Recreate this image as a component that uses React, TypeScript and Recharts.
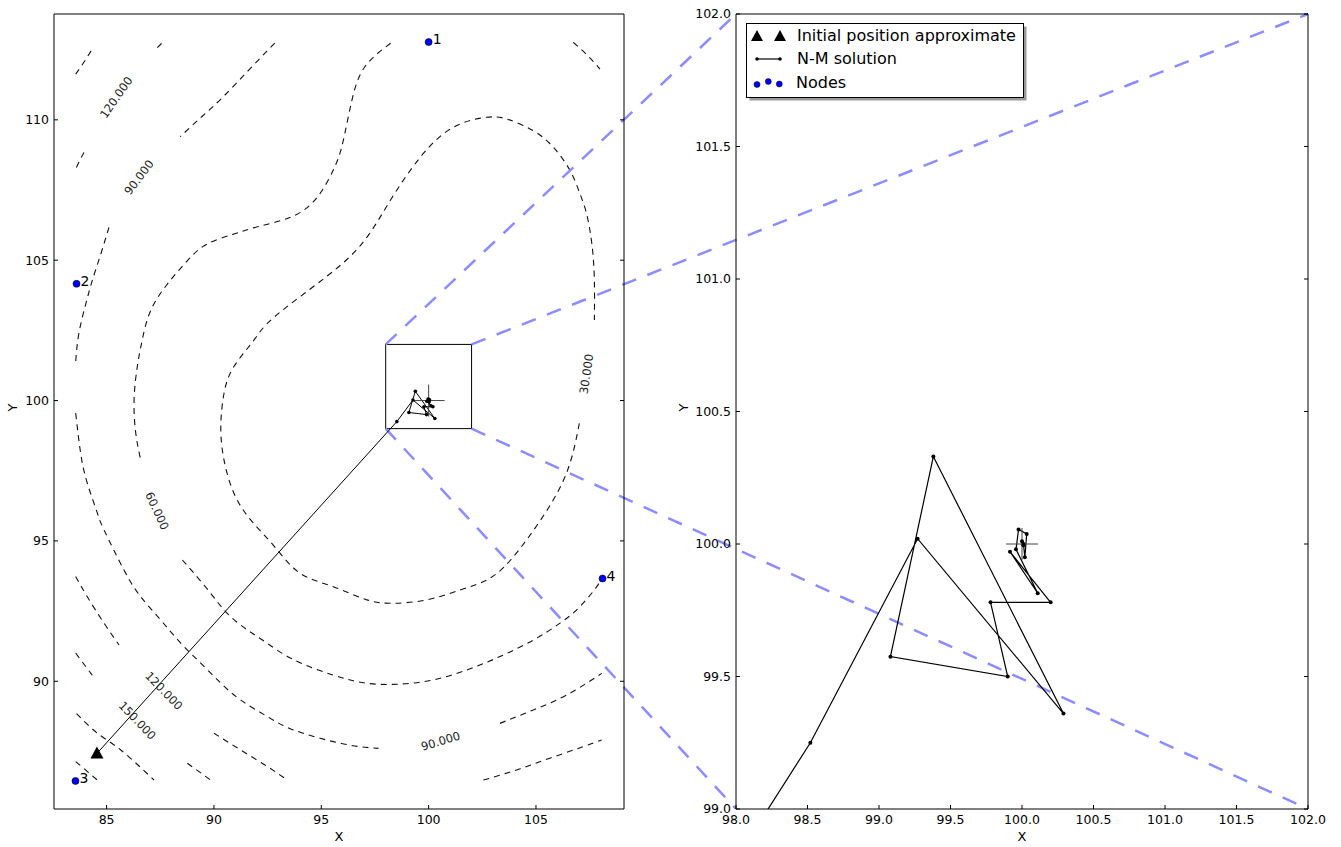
import React from "react";
import {
  ComposedChart,
  Line,
  Scatter,
  XAxis,
  YAxis,
  ReferenceArea,
  ReferenceLine,
  Legend,
} from "recharts";

type Pt = { x: number; y: number };

// axis ranges / ticks
const leftX = [82.55, 109.1];
const leftY = [85.45, 113.77];
const rightX = [98, 102];
const rightY = [99, 102];
const leftXTicks = [85, 90, 95, 100, 105];
const leftYTicks = [90, 95, 100, 105, 110];
const rightXTicks = [98, 98.5, 99, 99.5, 100, 100.5, 101, 101.5, 102];
const rightYTicks = [99, 99.5, 100, 100.5, 101, 101.5, 102];

// nodes, start guess, true position
const nodes = [
  { x: 100.0, y: 112.77, name: "1" },
  { x: 83.6, y: 104.16, name: "2" },
  { x: 83.55, y: 86.45, name: "3" },
  { x: 108.1, y: 93.66, name: "4" },
];
const initialGuess = [{ x: 84.55, y: 87.43 }];
const truePosition = [{ x: 100, y: 100 }];

// Nelder-Mead iterates
const nmPath = [
  [84.55, 87.43], [98.52, 99.25], [99.27, 100.02], [100.29, 99.36], [99.38, 100.33],
  [99.08, 99.575], [99.9, 99.5], [99.78, 99.78], [100.2, 99.78], [99.916, 99.971],
  [100.11, 99.814], [99.958, 99.98], [99.976, 100.055], [100.033, 100.038],
  [100.02, 99.95], [100.01, 100.0], [100.0, 100.01], [100.01, 99.995],
];

// contour pieces (split where matplotlib put inline labels)
const c30 = [
  [107.02, 99.19], [106.42, 97.41], [105.22, 95.75], [103.82, 94.32], [102.71, 93.61],
  [101.46, 93.25], [99.91, 92.9], [98.35, 92.78], [97.12, 92.9], [95.56, 93.37],
  [94.01, 93.85], [92.83, 94.79], [91.71, 95.75], [90.93, 96.7], [90.47, 97.88],
  [90.32, 99.07], [90.47, 100.26], [90.93, 101.21], [91.87, 102.16], [92.83, 102.99],
  [95.23, 104.41], [97.03, 105.72], [98.42, 107.38], [100.03, 109.04], [101.46, 109.85],
  [102.71, 110.09], [103.64, 110.03], [104.88, 109.61], [105.81, 109.02], [106.59, 108.19],
  [107.05, 107.36], [107.36, 106.65], [107.61, 105.54], [107.72, 104.29], [107.72, 102.87],
];
const c60a = [
  [98.23, 112.73], [97.03, 111.89], [96.43, 110.71], [96.03, 109.28], [95.63, 108.33],
  [94.83, 107.26], [93.63, 106.55], [92.03, 106.19], [90.93, 105.93], [89.69, 105.58],
  [88.76, 104.98], [87.83, 104.15], [87.05, 103.2], [86.66, 102.16], [86.43, 101.21],
  [86.28, 100.02], [86.36, 98.83], [86.59, 97.88],
];
const c60b = [
  [88.53, 94.32], [89.07, 93.85], [89.85, 93.13], [90.62, 92.42], [91.55, 91.83],
  [92.49, 91.35], [93.73, 90.76], [95.56, 90.22], [97.12, 89.93], [98.67, 89.9],
  [100.22, 90.05], [101.77, 90.4], [103.32, 90.88], [104.88, 91.47], [106.12, 92.07],
  [107.05, 92.66], [107.83, 93.37], [108.06, 93.67],
];
const c90a = [[92.83, 112.73], [91.63, 111.78], [90.43, 110.82], [89.43, 110.11], [88.43, 109.4]];
const c90b = [[85.11, 106.17], [84.73, 105.22], [84.33, 104.27], [84.03, 103.44], [83.71, 102.4], [83.56, 101.38]];
const c90c = [
  [83.56, 99.55], [83.79, 98.13], [84.1, 97.06], [84.57, 95.99], [84.88, 95.39],
  [85.81, 93.96], [86.59, 93.01], [87.52, 92.18], [88.45, 91.36], [89.38, 90.65],
  [90.31, 89.94], [91.25, 89.33], [92.49, 88.74], [93.73, 88.26], [95.56, 87.85],
  [96.8, 87.67], [97.66, 87.61],
];
const c90d = [[103.32, 88.5], [104.88, 88.98], [106.43, 89.51], [108.06, 90.28]];
const c120a = [[87.36, 112.57], [87.6, 112.75]];
const c120b = [[83.95, 108.84], [83.76, 108.57], [83.56, 108.25]];
const c120c = [[83.56, 93.73], [84.1, 93.01], [84.88, 92.07], [85.58, 91.29]];
const c120d = [[90.0, 88.15], [91.25, 87.55], [92.49, 86.96], [93.42, 86.48]];
const c150a = [[83.56, 91.0], [84.33, 90.22]];
const c150b = [[88.76, 87.08], [89.85, 86.48]];
const cTopLeft = [[83.56, 111.63], [83.95, 112.06], [84.38, 112.58]];
const cTopRight = [[106.74, 112.76], [107.38, 112.31], [107.98, 111.81]];
const cLowLeft1 = [[83.6, 88.85], [84.57, 88.15], [85.66, 87.55], [87.21, 86.48]];
const cLowLeft2 = [[83.56, 87.14], [84.57, 86.48]];
const cLowRight = [[102.55, 86.48], [104.1, 86.84], [105.65, 87.26], [107.2, 87.67], [108.06, 87.91]];

const contourLabels = [
  { x: 107.35, y: 100.95, text: "30.000", angle: -82 },
  { x: 87.35, y: 96.07, text: "60.000", angle: 65 },
  { x: 86.51, y: 107.95, text: "90.000", angle: -53 },
  { x: 100.56, y: 87.87, text: "90.000", angle: -17 },
  { x: 85.45, y: 110.8, text: "120.000", angle: -55 },
  { x: 87.67, y: 89.66, text: "120.000", angle: 46 },
  { x: 86.43, y: 88.6, text: "150.000", angle: 46 },
];

const toPts = (a: number[][]): Pt[] => a.map(([x, y]) => ({ x, y }));
const contours = [
  c30, c60a, c60b, c90a, c90b, c90c, c90d, c120a, c120b, c120c, c120d,
  c150a, c150b, cTopLeft, cTopRight, cLowLeft1, cLowLeft2, cLowRight,
].map(toPts);
const pathPts = toPts(nmPath);

// layout of the two panels (figure pixels)
const PLOT_TOP = 14;
const PLOT_H = 795;
const L_PLOT_X = 54;
const L_PLOT_W = 570;
const R_CHART_X = 670;
const R_PLOT_X = 736;
const R_PLOT_W = 572;

// where a point of the right panel sits in the data space of the left one
function rightToLeft(p: Pt): Pt {
  const fx = R_PLOT_X + ((p.x - rightX[0]) / (rightX[1] - rightX[0])) * R_PLOT_W;
  const fy = PLOT_TOP + ((rightY[1] - p.y) / (rightY[1] - rightY[0])) * PLOT_H;
  return {
    x: leftX[0] + ((fx - L_PLOT_X) / L_PLOT_W) * (leftX[1] - leftX[0]),
    y: leftY[1] - ((fy - PLOT_TOP) / PLOT_H) * (leftY[1] - leftY[0]),
  };
}
const zoomCorners: Pt[] = [
  { x: rightX[0], y: rightY[1] },
  { x: rightX[1], y: rightY[1] },
  { x: rightX[0], y: rightY[0] },
  { x: rightX[1], y: rightY[0] },
];

const FONT = "'DejaVu Sans', 'Bitstream Vera Sans', sans-serif";
const tickStyle = { fontSize: 12.5, fill: "#000", fontFamily: FONT };
const axisLabel = { fontSize: 13, fill: "#000", fontFamily: FONT };
const blank = () => "";

const NodeShape = (p: any) => (
  <g>
    <circle cx={p.cx} cy={p.cy} r={3.5} fill="#0000ff" stroke="#000" strokeWidth={0.6} />
    <text x={p.cx + 4} y={p.cy + 2} fontSize={14} fontFamily={FONT} fill="#000">
      {p.payload.name}
    </text>
  </g>
);

const TriangleShape = (p: any) => (
  <polygon
    points={`${p.cx},${p.cy - 7} ${p.cx - 6.5},${p.cy + 5} ${p.cx + 6.5},${p.cy + 5}`}
    fill="#000"
  />
);

const CrossShape = (p: any) => (
  <g stroke="#444" strokeWidth={1}>
    <line x1={p.cx - 16} x2={p.cx + 16} y1={p.cy} y2={p.cy} />
    <line x1={p.cx} x2={p.cx} y1={p.cy - 16} y2={p.cy + 16} />
  </g>
);

const ContourLabel = (p: any) => (
  <text
    x={p.cx}
    y={p.cy}
    transform={`rotate(${p.payload.angle} ${p.cx} ${p.cy})`}
    textAnchor="middle"
    dominantBaseline="central"
    fontSize={11.5}
    fontFamily={FONT}
    fill="#222"
  >
    {p.payload.text}
  </text>
);

const LegendBox = () => (
  <svg width={284} height={80} style={{ overflow: "visible", fontFamily: FONT }}>
    <rect x={3.5} y={3.5} width={277} height={74} fill="#999" />
    <rect x={0.5} y={0.5} width={277} height={74} fill="#fff" stroke="#000" />
    <polygon points="11,7 5,18 17,18" fill="#000" />
    <polygon points="34,7 28,18 40,18" fill="#000" />
    <text x={51} y={18} fontSize={16} fill="#000">Initial position approximate</text>
    <line x1={11} x2={34} y1={36} y2={36} stroke="#000" strokeWidth={1.2} />
    <circle cx={11} cy={36} r={1.8} fill="#000" />
    <circle cx={34} cy={36} r={1.8} fill="#000" />
    <text x={51} y={41} fontSize={16} fill="#000">N-M solution</text>
    <circle cx={11} cy={61.5} r={3} fill="#0000ff" stroke="#000" strokeWidth={0.5} />
    <circle cx={22.3} cy={58.5} r={3} fill="#0000ff" stroke="#000" strokeWidth={0.5} />
    <circle cx={33.3} cy={61} r={3} fill="#0000ff" stroke="#000" strokeWidth={0.5} />
    <text x={50} y={65} fontSize={16} fill="#000">Nodes</text>
  </svg>
);

export default function App() {
  return (
    <div style={{ position: "relative", width: 1341, height: 847, background: "#fff" }}>
      <style>{`body{margin:0} .recharts-surface{overflow:visible}`}</style>

      {/* left panel: whole field */}
      <div style={{ position: "absolute", left: 0, top: 0 }}>
        <ComposedChart width={660} height={847} margin={{ top: 13, right: 35, bottom: 0, left: 0 }}>
          <XAxis
            type="number"
            dataKey="x"
            domain={leftX}
            ticks={leftXTicks}
            interval={0}
            allowDataOverflow
            height={38}
            tickSize={-4}
            tickMargin={10}
            stroke="#000"
            tick={tickStyle}
            label={{ value: "X", position: "insideBottom", offset: 6, style: axisLabel }}
          />
          <XAxis xAxisId="top" orientation="top" type="number" domain={leftX} ticks={leftXTicks}
            interval={0} allowDataOverflow height={1} tickSize={-4} tickFormatter={blank} stroke="#000" />
          <YAxis
            type="number"
            dataKey="y"
            domain={leftY}
            ticks={leftYTicks}
            interval={0}
            allowDataOverflow
            width={54}
            tickSize={-4}
            tickMargin={9}
            stroke="#000"
            tick={tickStyle}
            label={{ value: "Y", angle: -90, position: "insideLeft", offset: 12, style: axisLabel }}
          />
          <YAxis yAxisId="right" orientation="right" type="number" domain={leftY} ticks={leftYTicks}
            interval={0} allowDataOverflow width={1} tickSize={-4} tickFormatter={blank} stroke="#000" />

          {contours.map((d, i) => (
            <Line key={"c" + i} data={d} dataKey="y" type="natural" stroke="#111" strokeWidth={1.1}
              strokeDasharray="6 5" dot={false} activeDot={false} legendType="none" isAnimationActive={false} />
          ))}
          <Scatter data={contourLabels} shape={ContourLabel} isAnimationActive={false} legendType="none" />

          <ReferenceArea x1={rightX[0]} x2={rightX[1]} y1={rightY[0]} y2={rightY[1]}
            fill="none" fillOpacity={0} stroke="#000" strokeWidth={1} ifOverflow="visible" />
          {zoomCorners.map((c, i) => (
            <ReferenceLine key={"z" + i} segment={[c, rightToLeft(c)]} stroke="#8c8cff"
              strokeWidth={2.5} strokeDasharray="15 12" ifOverflow="visible" />
          ))}

          <Scatter data={truePosition} shape={CrossShape} isAnimationActive={false} legendType="none" />
          <Line data={pathPts} dataKey="y" type="linear" stroke="#000" strokeWidth={1}
            dot={{ r: 1.8, fill: "#000", stroke: "#000", strokeWidth: 0 }} activeDot={false}
            legendType="none" isAnimationActive={false} />
          <Scatter data={nodes} shape={NodeShape} isAnimationActive={false} legendType="none" />
          <Scatter data={initialGuess} shape={TriangleShape} isAnimationActive={false} legendType="none" />
        </ComposedChart>
      </div>

      {/* right panel: zoom on the box */}
      <div style={{ position: "absolute", left: R_CHART_X, top: 0 }}>
        <ComposedChart width={671} height={847} margin={{ top: 13, right: 32, bottom: 0, left: 0 }}>
          <XAxis
            type="number"
            dataKey="x"
            domain={rightX}
            ticks={rightXTicks}
            interval={0}
            allowDataOverflow
            height={38}
            tickSize={-4}
            tickMargin={10}
            stroke="#000"
            tick={tickStyle}
            tickFormatter={(v: number) => v.toFixed(1)}
            label={{ value: "X", position: "insideBottom", offset: 6, style: axisLabel }}
          />
          <XAxis xAxisId="top" orientation="top" type="number" domain={rightX} ticks={rightXTicks}
            interval={0} allowDataOverflow height={1} tickSize={-4} tickFormatter={blank} stroke="#000" />
          <YAxis
            type="number"
            dataKey="y"
            domain={rightY}
            ticks={rightYTicks}
            interval={0}
            allowDataOverflow
            width={66}
            tickSize={-4}
            tickMargin={9}
            stroke="#000"
            tick={tickStyle}
            tickFormatter={(v: number) => v.toFixed(1)}
            label={{ value: "Y", angle: -90, position: "insideLeft", offset: 13, style: axisLabel }}
          />
          <YAxis yAxisId="right" orientation="right" type="number" domain={rightY} ticks={rightYTicks}
            interval={0} allowDataOverflow width={1} tickSize={-4} tickFormatter={blank} stroke="#000" />

          <Scatter data={truePosition} shape={CrossShape} isAnimationActive={false} legendType="none" />
          <Line data={pathPts} dataKey="y" type="linear" stroke="#000" strokeWidth={1.2}
            dot={{ r: 2, fill: "#000", stroke: "#000", strokeWidth: 0 }} activeDot={false}
            legendType="none" isAnimationActive={false} />

          <Legend
            content={LegendBox}
            layout="vertical"
            align="center"
            verticalAlign="middle"
            wrapperStyle={{ left: R_PLOT_X - R_CHART_X + 10, top: 23, width: 284, height: 80 }}
          />
        </ComposedChart>
      </div>
    </div>
  );
}
